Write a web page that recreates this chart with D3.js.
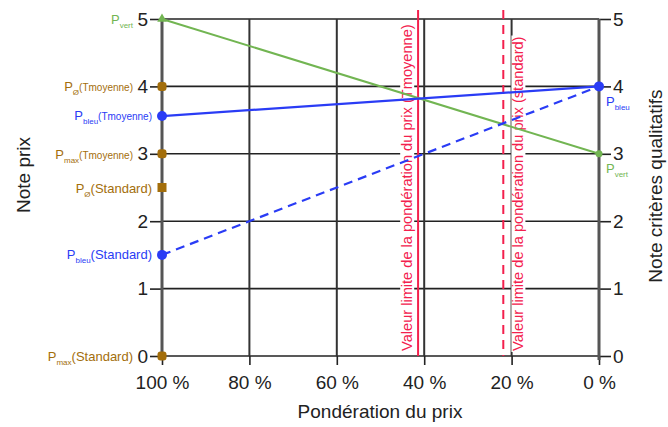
<!DOCTYPE html>
<html><head><meta charset="utf-8">
<script src="https://cdn.jsdelivr.net/npm/d3@7/dist/d3.min.js"></script>
<style>
body{margin:0;background:#fff;}
svg{font-family:"Liberation Sans",Arial,sans-serif;}
</style></head>
<body><svg id="c" width="668" height="427"></svg>
<script>
// ---- data ----
const xTicks = [100, 80, 60, 40, 20, 0];
const yTicks = [0, 1, 2, 3, 4, 5];
const ponderation = [100, 0];
const pVert = [5, 3];
const pBleuTmoy = [3.56, 4];
const pBleuStd = [1.5, 4];
const refNames = ["Pø(Tmoyenne)", "Pmax(Tmoyenne)", "Pø(Standard)", "Pmax(Standard)"];
const refValues = [4, 3, 2.5, 0];
const limitValues = [41.4, 21.9];
const limitLabels = ["Valeur limite de la pondération du prix (Tmoyenne)", "Valeur limite de la pondération du prix (standard)"];

const GREEN = "#72b552", BLUE = "#2a3cf5", BROWN = "#a36e0b", RED = "#f3204d", GRID = "#222";

const svg = d3.select("#c");
const x = d3.scaleLinear().domain([100, 0]).range([162, 599]);
const y = d3.scaleLinear().domain([0, 5]).range([356, 19]);

// grid
const g = svg.append("g");
g.selectAll("line.h").data(yTicks).join("line")
  .attr("x1", x(100)).attr("x2", x(0)).attr("y1", d => y(d)).attr("y2", d => y(d))
  .attr("stroke", GRID).attr("stroke-width", 1.6);
g.selectAll("line.v").data(xTicks.filter(d => d !== 100 && d !== 0)).join("line")
  .attr("x1", d => x(d)).attr("x2", d => x(d)).attr("y1", y(5)).attr("y2", y(0))
  .attr("stroke", "#333").attr("stroke-width", 2);

// limit labels with white background
limitValues.forEach((v, i) => {
  const lx = x(v) + (i === 0 ? -11 : 15);
  const t = svg.append("text")
    .attr("transform", `translate(${lx},351) rotate(-90)`)
    .attr("font-size", 14.6).attr("fill", RED).attr("dy", "0.35em")
    .text(limitLabels[i]);
  const bb = t.node().getBBox();
  svg.insert("rect", () => t.node())
    .attr("transform", `translate(${lx},351) rotate(-90)`)
    .attr("x", bb.x - 1).attr("y", bb.y + 1).attr("width", bb.width + 2).attr("height", bb.height - 2)
    .attr("fill", "#fff");
});

// limit lines
svg.selectAll("line.lim").data(limitValues).join("line")
  .attr("x1", d => x(d)).attr("x2", d => x(d)).attr("y1", 10).attr("y2", y(0))
  .attr("stroke", RED).attr("stroke-width", 2)
  .attr("stroke-dasharray", (d, i) => i === 1 ? "9,6" : null);

// axes
const axL = svg.append("g").attr("transform", `translate(${x(100)},0)`)
  .call(d3.axisLeft(y).tickValues(yTicks).tickSize(12).tickPadding(2).tickFormat(d3.format("d")));
const axR = svg.append("g").attr("transform", `translate(${x(0)},0)`)
  .call(d3.axisRight(y).tickValues(yTicks).tickSize(12).tickPadding(2).tickFormat(d3.format("d")));
const axB = svg.append("g").attr("transform", `translate(0,${y(0)})`)
  .call(d3.axisBottom(x).tickValues(xTicks).tickSize(9).tickPadding(11).tickFormat(d => d + " %"));
[axL, axR, axB].forEach(a => {
  a.select(".domain").remove();
  a.selectAll(".tick line").attr("stroke", GRID).attr("stroke-width", 1.6);
  a.selectAll(".tick text").attr("font-size", 19).attr("fill", "#222").attr("font-family", "Liberation Sans, Arial, sans-serif");
});
// main vertical axis lines
[100, 0].forEach(v => svg.append("line").attr("x1", x(v)).attr("x2", x(v))
  .attr("y1", y(5)).attr("y2", y(0) + 4).attr("stroke", "#555").attr("stroke-width", 3));

// data lines
const line = d3.line().x(d => x(d[0])).y(d => y(d[1]));
const zip = arr => ponderation.map((p, i) => [p, arr[i]]);
svg.append("path").attr("d", line(zip(pVert))).attr("fill", "none").attr("stroke", GREEN).attr("stroke-width", 2);
svg.append("path").attr("d", line(zip(pBleuTmoy))).attr("fill", "none").attr("stroke", BLUE).attr("stroke-width", 2.2);
svg.append("path").attr("d", line(zip(pBleuStd))).attr("fill", "none").attr("stroke", BLUE).attr("stroke-width", 2.2).attr("stroke-dasharray", "9,6");

// markers
svg.append("path").attr("d", d3.symbol(d3.symbolTriangle, 40)()).attr("transform", `translate(${x(100)},${y(pVert[0])})`).attr("fill", GREEN);
svg.append("circle").attr("cx", x(0)).attr("cy", y(pVert[1])).attr("r", 3.5).attr("fill", GREEN);
[[100, pBleuTmoy[0]], [100, pBleuStd[0]], [0, pBleuTmoy[1]]].forEach(d =>
  svg.append("circle").attr("cx", x(d[0])).attr("cy", y(d[1])).attr("r", 5).attr("fill", BLUE));
refValues.forEach((v, i) => {
  svg.append("rect").attr("x", x(100) - 4.5).attr("y", y(v) - 4.5).attr("width", 9).attr("height", 9)
    .attr("rx", i === 2 ? 0 : 3).attr("fill", BROWN);
});

// rich labels
function rich(xp, yp, anchor, color, main, sub, tail, tailSize) {
  const t = svg.append("text").attr("x", xp).attr("y", yp).attr("text-anchor", anchor).attr("fill", color).attr("font-size", 13);
  t.append("tspan").text(main);
  t.append("tspan").attr("font-size", 8).attr("dy", 4).text(sub);
  if (tail) t.append("tspan").attr("font-size", tailSize).attr("dy", -4).text(tail);
  return t;
}
rich(133, y(5) + 5, "end", GREEN, "P", "vert");
rich(133, y(4) + 5, "end", BROWN, "P", "Ø", "(Tmoyenne)", 10);
rich(152, y(pBleuTmoy[0]) + 4, "end", BLUE, "P", "bleu", "(Tmoyenne)", 10);
rich(133, y(3) + 5, "end", BROWN, "P", "max", "(Tmoyenne)", 10);
rich(152, y(2.5) + 5, "end", BROWN, "P", "Ø", "(Standard)", 13);
rich(152, y(pBleuStd[0]) + 4, "end", BLUE, "P", "bleu", "(Standard)", 13);
rich(133, y(0) + 5, "end", BROWN, "P", "max", "(Standard)", 13);
rich(606, y(4) + 20, "start", BLUE, "P", "bleu");
rich(606, y(3) + 19, "start", GREEN, "P", "vert");

// axis titles
svg.append("text").attr("transform", `translate(30,175) rotate(-90)`).attr("text-anchor", "middle")
  .attr("font-size", 19).attr("fill", "#222").text("Note prix");
svg.append("text").attr("transform", `translate(662,186) rotate(-90)`).attr("text-anchor", "middle")
  .attr("font-size", 19).attr("fill", "#222").text("Note critères qualitatifs");
svg.append("text").attr("x", 380).attr("y", 418).attr("text-anchor", "middle")
  .attr("font-size", 19).attr("fill", "#222").text("Pondération du prix");
</script></body></html>
